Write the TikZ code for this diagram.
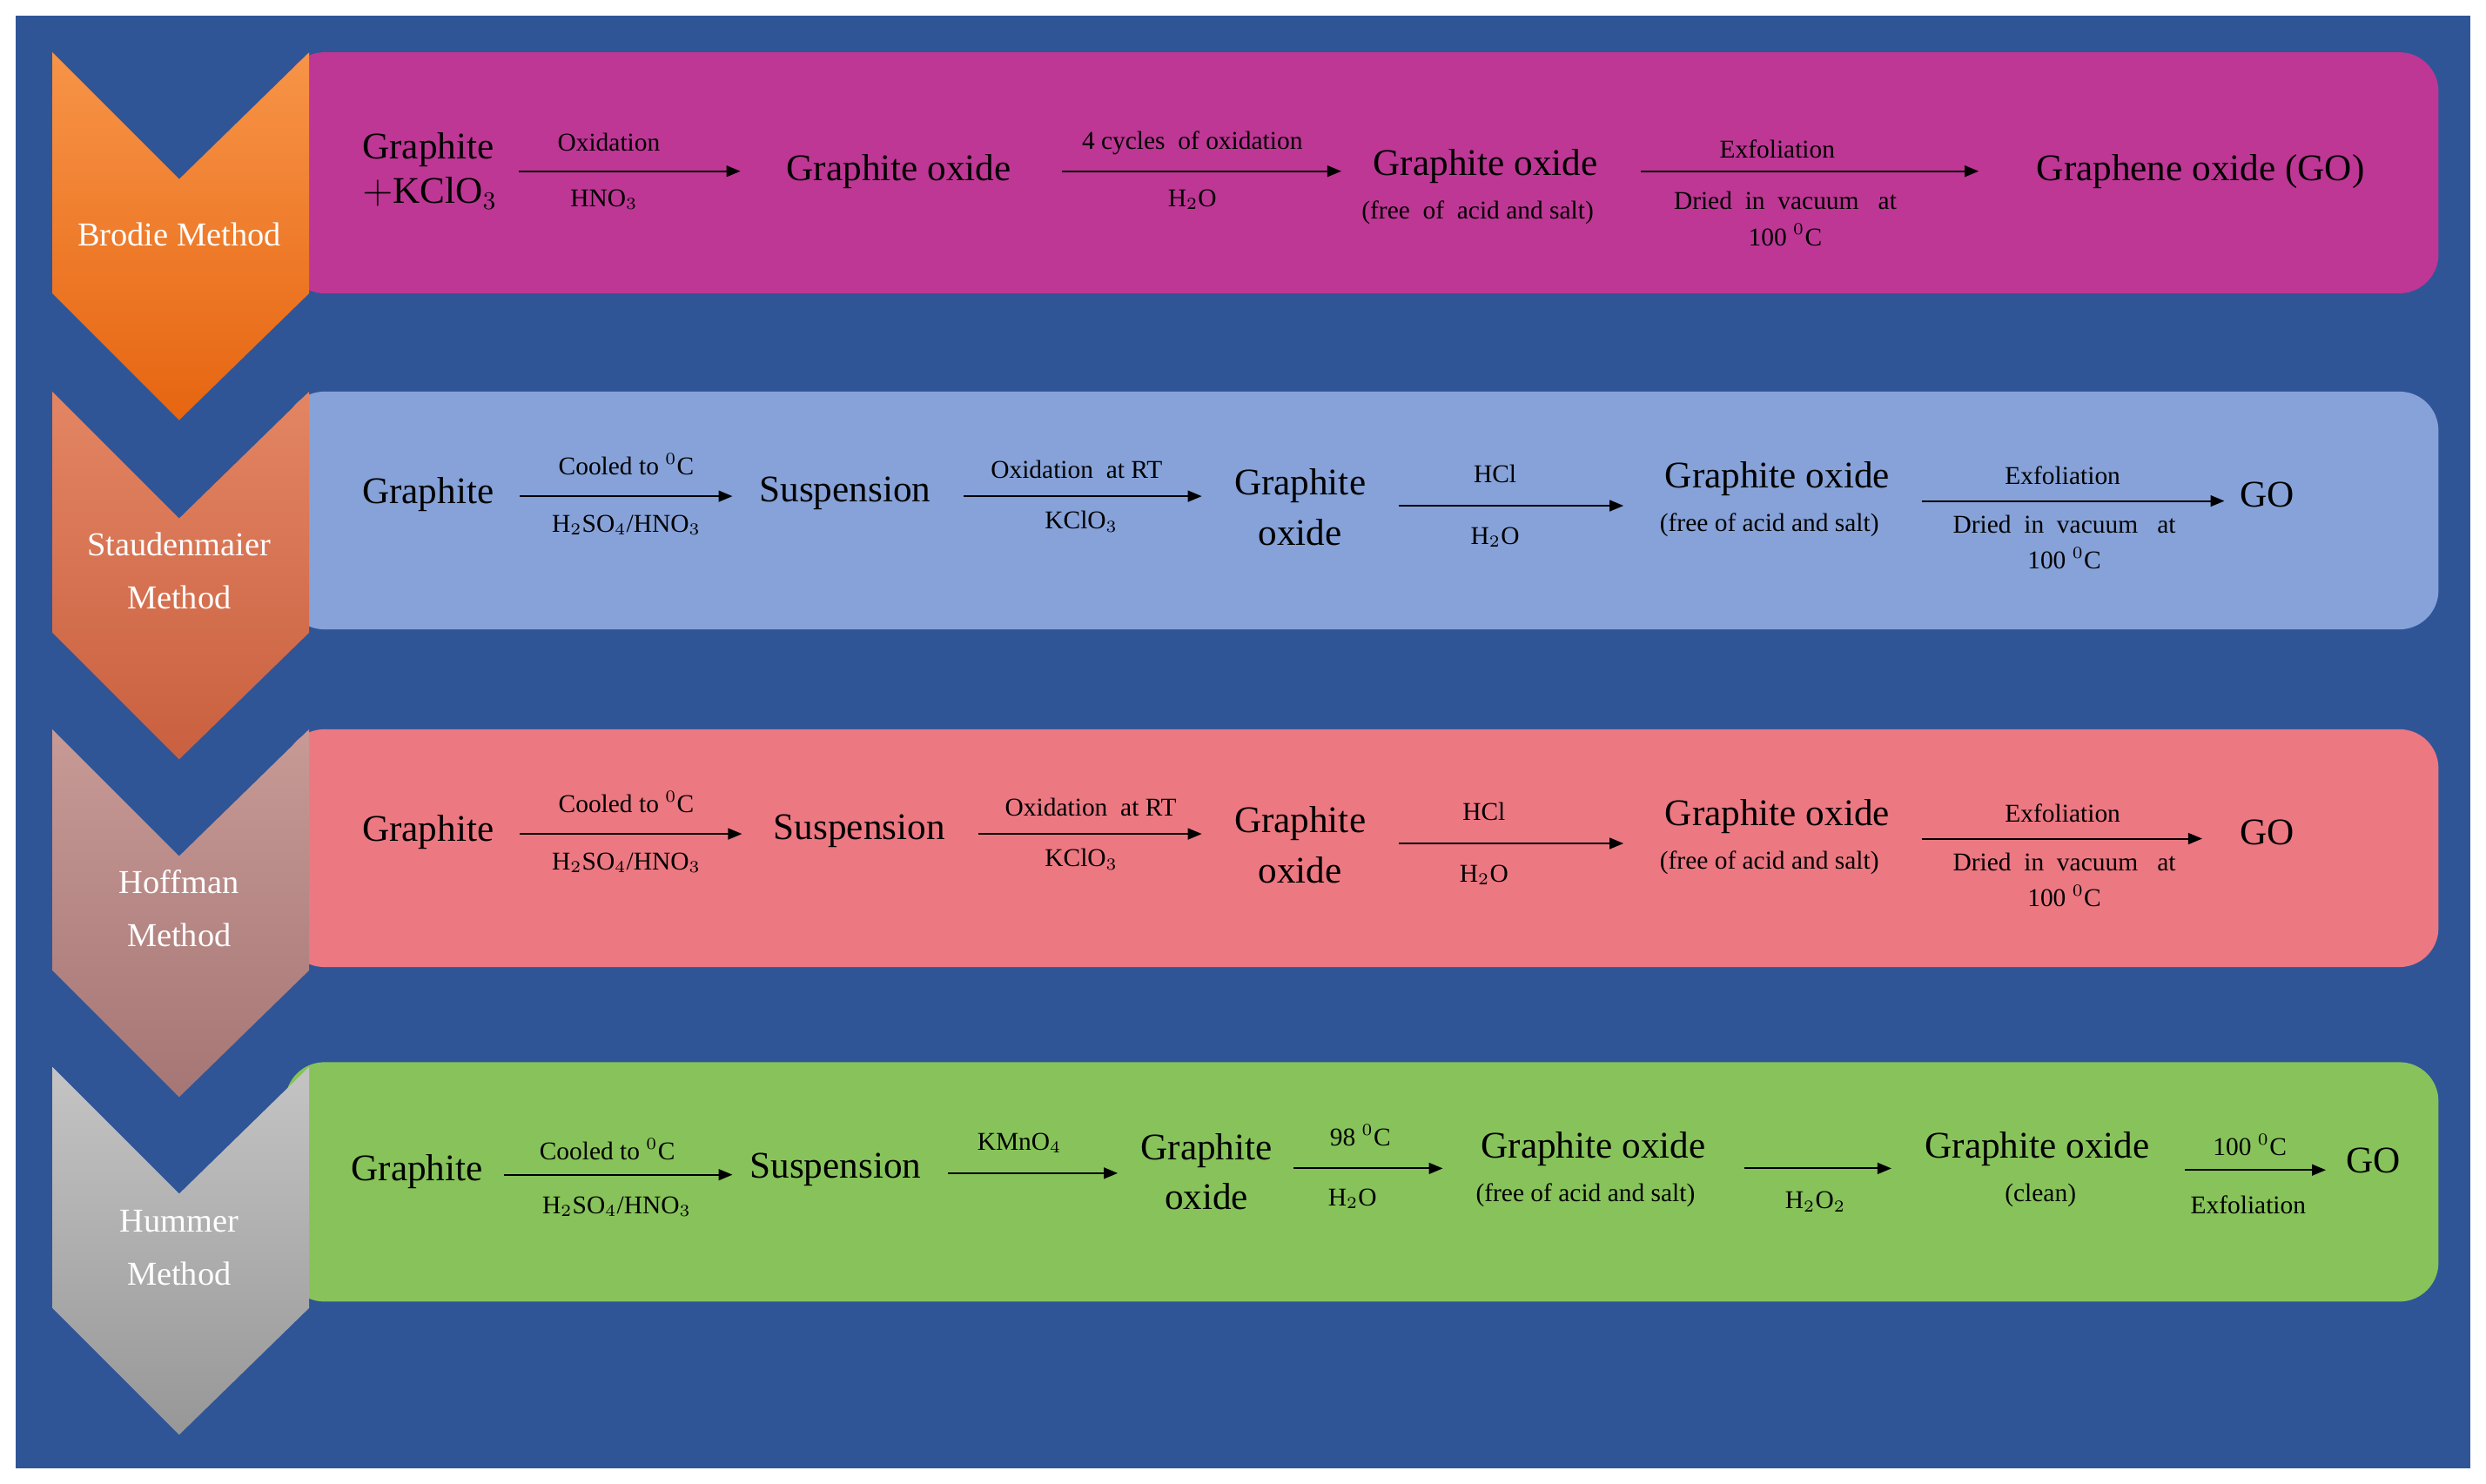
\documentclass[tikz,border=0pt]{standalone}
\usepackage{fontspec}
\setmainfont{Liberation Serif}
\usetikzlibrary{arrows.meta}
\definecolor{bgblue}{HTML}{2F5597}
\definecolor{bmag}{HTML}{BE3795}
\definecolor{bblue}{HTML}{86A2D8}
\definecolor{bpink}{HTML}{EC7882}
\definecolor{bgreen}{HTML}{87C35A}
\definecolor{ca1}{HTML}{F79448}\definecolor{ca2}{HTML}{E66510}
\definecolor{cb1}{HTML}{E38564}\definecolor{cb2}{HTML}{C9603F}
\definecolor{cc1}{HTML}{C89A96}\definecolor{cc2}{HTML}{A57674}
\definecolor{cd1}{HTML}{C4C4C4}\definecolor{cd2}{HTML}{979797}
\tikzset{
 big/.style={font=\fontsize{13.5}{16}\selectfont, inner sep=0pt, align=center},
 sml/.style={font=\fontsize{9.2}{13}\selectfont, inner sep=0pt, align=center},
 lab/.style={font=\fontsize{12}{19}\selectfont, text=white, inner sep=0pt, align=center},
 rx/.style={-{Triangle[length=5pt,width=4pt]}, line width=0.6pt},
 banner/.style={rounded corners=14pt}
}
\newcommand{\chev}[3]{% top y, top color, bottom color
 \shade[top color=#2,bottom color=#3] (33,#1) -- (113,#1+80) -- (195,#1) -- (195,#1+152) -- (113,#1+232) -- (33,#1+152) -- cycle;}
\begin{document}
\begin{tikzpicture}[x=0.02cm,y=-0.02cm]
\useasboundingbox (0,0) rectangle (1568,936);
\fill[white] (0,0) rectangle (1568,936);
\fill[bgblue] (10,10) rectangle (1558,926);
% banners
\fill[bmag,banner] (180,33) rectangle (1538,185);
\fill[bblue,banner] (180,247) rectangle (1538,397);
\fill[bpink,banner] (180,460) rectangle (1538,610);
\fill[bgreen,banner] (180,670) rectangle (1538,821);
% chevrons
\chev{33}{ca1}{ca2}
\chev{247}{cb1}{cb2}
\chev{460}{cc1}{cc2}
\chev{673}{cd1}{cd2}
\node[lab] (m1) at (113,148) {Brodie Method};
\node[lab] (m2) at (113,360) {Staudenmaier\\Method};
\node[lab] (m3) at (113,573) {Hoffman\\Method};
\node[lab] (m4) at (113,787) {Hummer\\Method};
% ---- row 1
\node[big,align=left] (r1a) at (271,108) {Graphite\\$+$KClO$_3$};
\coordinate (r1s1) at (327,108); \coordinate (r1e1) at (467,108);
\draw[rx] (r1s1) -- (r1e1);
\node[sml] at (384,90) {Oxidation};
\node[sml] at (381,126) {HNO$_3$};
\node[big] (r1b) at (567,108) {Graphite oxide};
\coordinate (r1s2) at (670,108); \coordinate (r1e2) at (846,108);
\draw[rx] (r1s2) -- (r1e2);
\node[sml] at (752,90) {4 cycles\ \ of oxidation};
\node[sml] at (752,126) {H$_2$O};
\node[big] (r1c) at (937,105) {Graphite oxide};
\node[sml] at (932,134) {(free\ \ of\ \ acid and salt)};
\coordinate (r1s3) at (1035,108); \coordinate (r1e3) at (1248,108);
\draw[rx] (r1s3) -- (r1e3);
\node[sml] at (1121,94) {Exfoliation};
\node[sml] at (1126,138) {Dried\ \ in\ \ vacuum\ \ \ at\\100 $^0$C};
\node[big] (r1d) at (1388,108) {Graphene oxide (GO)};
% ---- rows 2 and 3
\foreach \r/\dy/\ax/\sx/\bx/\hx/\ex in {2/0/462/533/758/943/1403, 3/213/468/542/758/936/1389}{
 \node[big] (g\r) at (270,312+\dy) {Graphite};
 \coordinate (s\r a) at (328,313+\dy); \coordinate (e\r a) at (\ax,313+\dy);
 \draw[rx] (s\r a) -- (e\r a);
 \node[sml] at (395,293+\dy) {Cooled to $^0$C};
 \node[sml] at (395,331+\dy) {H$_2$SO$_4$/HNO$_3$};
 \node[big] (su\r) at (\sx,311+\dy) {Suspension};
 \coordinate (s\r b) at (\sx+75,313+\dy); \coordinate (e\r b) at (\bx,313+\dy);
 \draw[rx] (s\r b) -- (e\r b);
 \node[sml] at (\sx+146,296+\dy) {Oxidation\ \ at RT};
 \node[sml] at (682,329+\dy) {KClO$_3$};
 \node[big] (go\r) at (820,320+\dy) {Graphite\\[2pt]oxide};
 \coordinate (s\r c) at (882,319+\dy); \coordinate (e\r c) at (1024,319+\dy);
 \draw[rx] (s\r c) -- (e\r c);
 \node[sml] at (\hx,299+\dy) {HCl};
 \node[sml] at (\hx,339+\dy) {H$_2$O};
 \node[big] (gf\r) at (1121,302+\dy) {Graphite oxide};
 \node[sml] at (1116,331+\dy) {(free of acid and salt)};
 \coordinate (s\r d) at (1212,316+\dy); \coordinate (e\r d) at (\ex,316+\dy);
 \draw[rx] (s\r d) -- (e\r d);
 \node[sml] at (1301,300+\dy) {Exfoliation};
 \node[sml] at (1302,342+\dy) {Dried\ \ in\ \ vacuum\ \ \ at\\100 $^0$C};
 \node[big] (go\r f) at (1430,312+\dy) {GO};
}
% ---- row 4
\node[big] (h1) at (263,739) {Graphite};
\coordinate (h1s) at (318,741); \coordinate (h1e) at (462,741);
\draw[rx] (h1s) -- (h1e);
\node[sml] at (383,725) {Cooled to $^0$C};
\node[sml] at (389,761) {H$_2$SO$_4$/HNO$_3$};
\node[big] (h2) at (527,738) {Suspension};
\coordinate (h2s) at (598,740); \coordinate (h2e) at (705,740);
\draw[rx] (h2s) -- (h2e);
\node[sml] at (643,721) {KMnO$_4$};
\node[big] (h3) at (761,739) {Graphite\\[2pt]oxide};
\coordinate (h3s) at (816,737); \coordinate (h3e) at (910,737);
\draw[rx] (h3s) -- (h3e);
\node[sml] at (858,716) {98 $^0$C};
\node[sml] at (853,756) {H$_2$O};
\node[big] (h4) at (1005,725) {Graphite oxide};
\node[sml] at (1000,754) {(free of acid and salt)};
\coordinate (h4s) at (1100,737); \coordinate (h4e) at (1193,737);
\draw[rx] (h4s) -- (h4e);
\node[sml] at (1145,758) {H$_2$O$_2$};
\node[big] (h5) at (1285,725) {Graphite oxide};
\node[sml] at (1287,754) {(clean)};
\coordinate (h5s) at (1378,738); \coordinate (h5e) at (1467,738);
\draw[rx] (h5s) -- (h5e);
\node[sml] at (1419,722) {100 $^0$C};
\node[sml] at (1418,760) {Exfoliation};
\node[big] (h6) at (1497,732) {GO};
\end{tikzpicture}
\end{document}
